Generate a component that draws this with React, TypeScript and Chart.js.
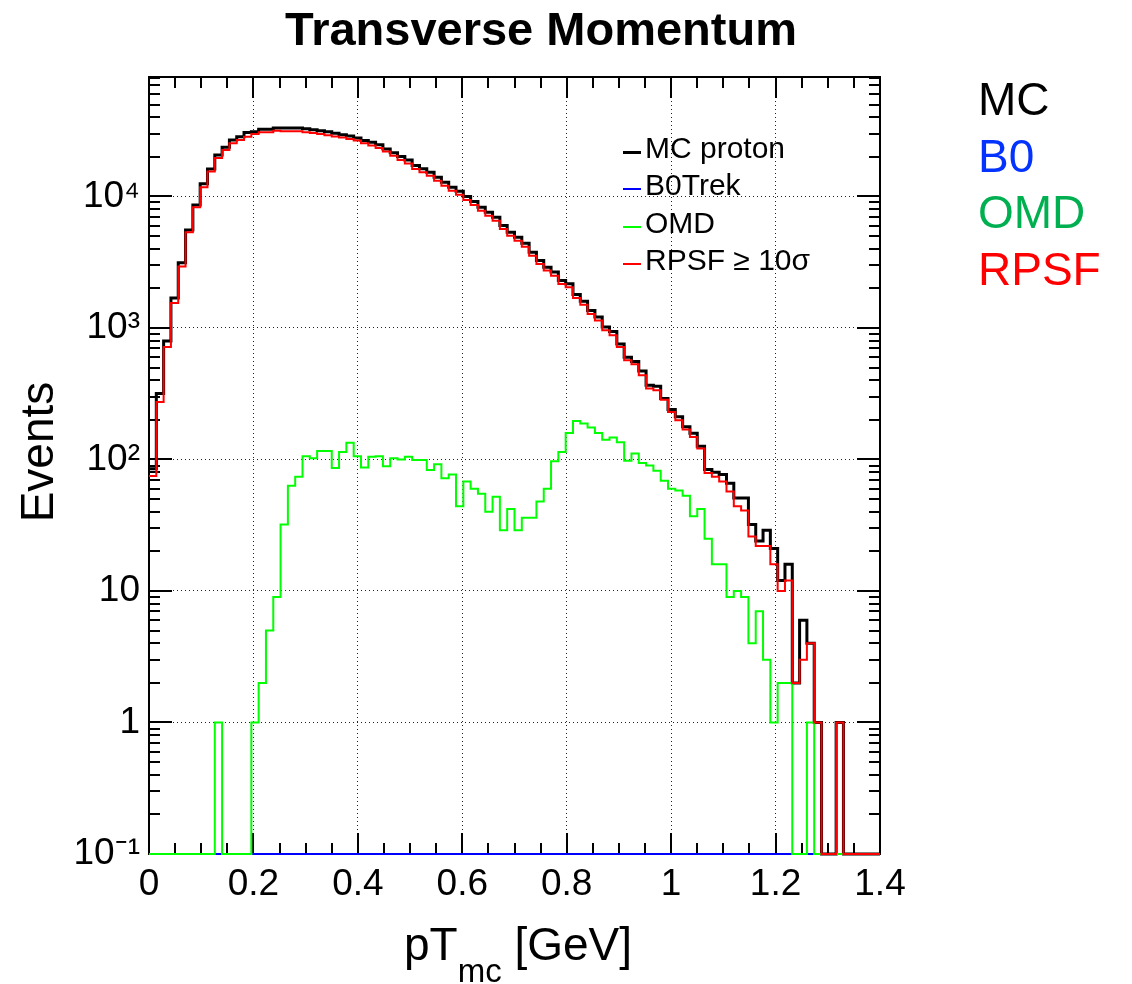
import React, { useEffect, useRef } from "react";
import { Chart, registerables } from "chart.js";

Chart.register(...registerables);

// ---- binning (100 bins between 0 and 1.4 GeV) ----
const xMin = 0;
const xMax = 1.4;
const binCount = 100;
const yMin = 0.1;
const yMax = 81000;

const xTickValues = [0, 0.2, 0.4, 0.6, 0.8, 1, 1.2, 1.4];
const xTickLabels = ["0", "0.2", "0.4", "0.6", "0.8", "1", "1.2", "1.4"];
const yTickValues = [0.1, 1, 10, 100, 1000, 10000];
const yTickLabels = ["10\u207B\u00B9", "1", "10", "10\u00B2", "10\u00B3", "10\u2074"];

// ---- series (events per bin) ----
const mcProton = [
  85, 318, 795, 1690, 3130, 5570, 8630, 12470, 16200, 20700,
  23700, 26900, 28500, 30600, 31100, 32400, 32500, 33200, 33200, 33200,
  33100, 32800, 32200, 31600, 31000, 30300, 29500, 28800, 27800, 26600,
  25800, 24700, 23000, 21500, 20100, 18970, 17180, 16220, 15290, 14000,
  12830, 11760, 10960, 10000, 9150, 8290, 7600, 6960, 6020, 5350,
  4900, 4410, 3770, 3260, 2900, 2660, 2300, 2170, 1800, 1600,
  1360, 1210, 1016, 940, 755, 598, 556, 471, 367, 360,
  291, 240, 211, 177, 158, 126, 84, 80, 77, 66,
  51, 51, 32, 24, 29, 21, 12, 16, 2, 6,
  4, 1, 0, 0, 1, 0, 0, 0, 0, 0,
];

const b0Trek = [
  0, 0, 0, 0, 0, 0, 0, 0, 0, 0,
  0, 0, 0, 0, 0, 0, 0, 0, 0, 0,
  0, 0, 0, 0, 0, 0, 0, 0, 0, 0,
  0, 0, 0, 0, 0, 0, 0, 0, 0, 0,
  0, 0, 0, 0, 0, 0, 0, 0, 0, 0,
  0, 0, 0, 0, 0, 0, 0, 0, 0, 0,
  0, 0, 0, 0, 0, 0, 0, 0, 0, 0,
  0, 0, 0, 0, 0, 0, 0, 0, 0, 0,
  0, 0, 0, 0, 0, 0, 0, 0, 0, 0,
  0, 0, 0, 0, 0, 0, 0, 0, 0, 0,
];

const omd = [
  0, 0, 0, 0, 0, 0, 0, 0, 0, 1,
  0, 0, 0, 0, 1, 2, 5, 9, 32, 63,
  74, 106, 102, 116, 116, 86, 114, 134, 106, 87,
  105, 106, 89, 102, 100, 105, 99, 99, 83, 92,
  72, 77, 44, 68, 60, 55, 40, 52, 29, 42,
  29, 36, 36, 48, 60, 97, 114, 159, 196, 188,
  175, 159, 141, 147, 135, 98, 111, 94, 90, 82,
  69, 60, 58, 53, 37, 42, 25, 16, 16, 9,
  10, 9, 4, 7, 3, 1, 2, 2, 0, 0,
  1, 0, 0, 0, 0, 0, 0, 0, 0, 0,
];

const rpsf = [
  75, 274, 716, 1550, 2940, 5340, 8280, 11750, 15500, 19600,
  22600, 25400, 26900, 28500, 29900, 30800, 30800, 31600, 31300, 31300,
  31300, 30800, 30400, 29900, 29200, 28600, 28100, 27400, 26600, 25400,
  24400, 23400, 22000, 20400, 18900, 17800, 16150, 15250, 14370, 13160,
  12060, 11050, 10300, 9400, 8600, 7790, 7140, 6540, 5660, 5030,
  4600, 4150, 3540, 3060, 2730, 2500, 2160, 2040, 1690, 1500,
  1280, 1140, 960, 879, 716, 568, 529, 437, 346, 336,
  285, 230, 199, 169, 148, 121, 79, 74, 68, 57,
  44, 41, 26, 22, 22, 16, 10, 12, 2, 3,
  4, 1, 0, 0, 1, 0, 0, 0, 0, 0,
];

const FONT = "'Liberation Sans', Arial, Helvetica, sans-serif";

function toSteps(values: number[]) {
  const w = (xMax - xMin) / binCount;
  const pts = values.map((v, i) => ({ x: xMin + i * w, y: v > 0 ? v : yMin }));
  pts.push({ x: xMax, y: pts[pts.length - 1].y });
  return pts;
}

const frameTicks = {
  id: "frameTicks",
  beforeDatasetsDraw(chart: any) {
    const { ctx, chartArea: a, scales } = chart;
    const x = scales.x;
    const y = scales.y;
    ctx.save();
    ctx.strokeStyle = "#000";
    ctx.lineWidth = 2;
    ctx.beginPath();
    for (let k = 0; k <= 28; k++) {
      const px = Math.round(x.getPixelForValue(k * 0.05));
      const len = k % 4 === 0 ? 21 : 11;
      ctx.moveTo(px, a.bottom);
      ctx.lineTo(px, a.bottom - len);
      ctx.moveTo(px, a.top);
      ctx.lineTo(px, a.top + len);
    }
    for (let d = -1; d <= 4; d++) {
      for (let m = 1; m <= 9; m++) {
        const v = m * Math.pow(10, d);
        if (v > yMax) break;
        const py = Math.round(y.getPixelForValue(v));
        const len = m === 1 ? 23 : 11;
        ctx.moveTo(a.left, py);
        ctx.lineTo(a.left + len, py);
        ctx.moveTo(a.right, py);
        ctx.lineTo(a.right - len, py);
      }
    }
    ctx.stroke();
    ctx.strokeRect(a.left, a.top, a.right - a.left, a.bottom - a.top);
    ctx.restore();
  },
};

const legendItems = [
  { label: "MC proton", color: "#000000", width: 3 },
  { label: "B0Trek", color: "#0000ff", width: 2 },
  { label: "OMD", color: "#00ff00", width: 2 },
  { label: "RPSF \u2265 10\u03C3", color: "#ff0000", width: 2 },
];

const sideLabels = [
  { label: "MC", color: "#000000" },
  { label: "B0", color: "#0433ff" },
  { label: "OMD", color: "#00b050" },
  { label: "RPSF", color: "#ff0000" },
];

export default function App() {
  const canvasRef = useRef<HTMLCanvasElement | null>(null);

  useEffect(() => {
    const canvas = canvasRef.current;
    if (!canvas) return;
    const chart = new Chart(canvas, {
      type: "line",
      data: {
        datasets: [
          {
            label: "MC proton",
            data: toSteps(mcProton),
            borderColor: "#000000",
            borderWidth: 3,
            order: 3,
          },
          {
            label: "B0Trek",
            data: toSteps(b0Trek),
            borderColor: "#0000ff",
            borderWidth: 2,
            order: 2,
          },
          {
            label: "OMD",
            data: toSteps(omd),
            borderColor: "#00ff00",
            borderWidth: 2,
            order: 1,
          },
          {
            label: "RPSF \u2265 10\u03C3",
            data: toSteps(rpsf),
            borderColor: "#ff0000",
            borderWidth: 2,
            order: 0,
          },
        ] as any,
      },
      options: {
        animation: false,
        responsive: false,
        devicePixelRatio: 1,
        parsing: false as any,
        normalized: true,
        datasets: {
          line: {
            stepped: true,
            pointRadius: 0,
            fill: false,
            tension: 0,
            borderJoinStyle: "miter",
            borderCapStyle: "butt",
            clip: 3,
          },
        } as any,
        layout: { padding: { left: 0, right: 252, top: 77, bottom: 0 } },
        plugins: {
          legend: { display: false },
          tooltip: { enabled: false },
          title: { display: false },
        },
        scales: {
          x: {
            type: "linear",
            min: xMin,
            max: xMax,
            afterBuildTicks: (s: any) => {
              s.ticks = xTickValues.map((v) => ({ value: v }));
            },
            afterFit: (s: any) => {
              s.height = 130;
            },
            ticks: {
              callback: (_v: any, i: number) => xTickLabels[i],
              font: { family: FONT, size: 37 },
              color: "#000",
              padding: 9,
              maxRotation: 0,
              autoSkip: false,
            },
            grid: {
              drawTicks: false,
              color: "#222",
              lineWidth: 1,
            },
            border: { display: false, dash: [1, 3] },
          },
          y: {
            type: "logarithmic",
            min: yMin,
            max: yMax,
            afterBuildTicks: (s: any) => {
              s.ticks = yTickValues.map((v) => ({ value: v }));
            },
            afterFit: (s: any) => {
              s.width = 149;
            },
            ticks: {
              callback: (_v: any, i: number) => yTickLabels[i],
              font: { family: FONT, size: 37 },
              color: "#000",
              padding: 9,
              autoSkip: false,
            },
            grid: {
              drawTicks: false,
              color: "#222",
              lineWidth: 1,
            },
            border: { display: false, dash: [1, 3] },
          },
        },
      } as any,
      plugins: [frameTicks],
    });
    return () => chart.destroy();
  }, []);

  const text = (extra: React.CSSProperties): React.CSSProperties => ({
    position: "absolute",
    fontFamily: FONT,
    whiteSpace: "nowrap",
    margin: 0,
    ...extra,
  });

  return (
    <div style={{ position: "absolute", left: 0, top: 0, width: 1132, height: 984, background: "#fff", overflow: "hidden" }}>
      <canvas ref={canvasRef} width={1132} height={984} style={{ position: "absolute", left: 0, top: 0, display: "block" }} />
      <div style={text({ left: 0, width: 1082, top: 5, textAlign: "center", fontSize: 47, lineHeight: "47px", fontWeight: "bold", color: "#000" })}>
        Transverse Momentum
      </div>
      {sideLabels.map((s, i) => (
        <div key={s.label} style={text({ left: 978, top: 76 + i * 56.7, fontSize: 46, lineHeight: "46px", color: s.color })}>
          {s.label}
        </div>
      ))}
      {legendItems.map((l, i) => (
        <React.Fragment key={l.label}>
          <div style={{ position: "absolute", left: 623, width: 18, top: 152 + i * 37.3 - l.width / 2, height: l.width, background: l.color }} />
          <div style={text({ left: 645, top: 133 + i * 37.3, fontSize: 30, lineHeight: "30px", color: "#000" })}>{l.label}</div>
        </React.Fragment>
      ))}
      <div style={text({ left: 404, top: 921, fontSize: 46, lineHeight: "46px", color: "#000" })}>
        pT
        <span style={{ position: "relative", top: 22, fontSize: 33 }}>mc</span> [GeV]
      </div>
      <div
        style={text({
          left: 37 - 150,
          top: 452 - 23,
          width: 300,
          height: 46,
          textAlign: "center",
          fontSize: 46,
          lineHeight: "46px",
          color: "#000",
          transform: "rotate(-90deg)",
          transformOrigin: "50% 50%",
        })}
      >
        Events
      </div>
    </div>
  );
}
